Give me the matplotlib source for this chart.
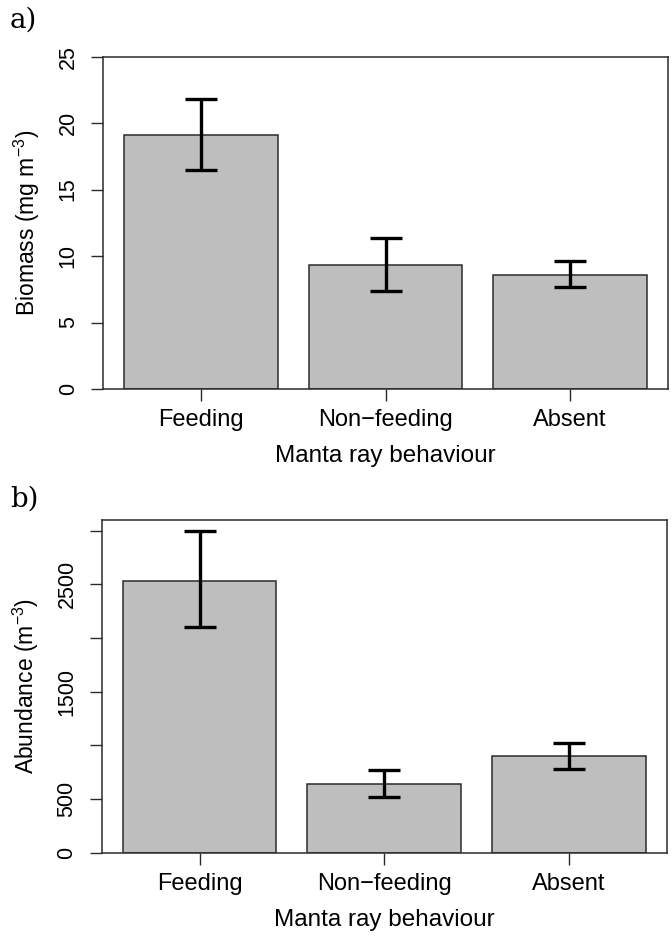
import numpy as np
import matplotlib
matplotlib.use('Agg')
import matplotlib.pyplot as plt

plt.rcParams['font.family'] = ['Liberation Sans', 'DejaVu Sans']
plt.rcParams['mathtext.fontset'] = 'custom'
plt.rcParams['mathtext.rm'] = 'Liberation Sans'
plt.rcParams['mathtext.it'] = 'Liberation Sans:italic'

behaviour = ['Feeding', 'Non\u2212feeding', 'Absent']

biomass = [19.1, 9.3, 8.55]
biomass_upper = [21.8, 11.35, 9.6]
biomass_lower = [16.45, 7.35, 7.65]
biomass_ticks = [0, 5, 10, 15, 20, 25]
biomass_ticklabels = ['0', '5', '10', '15', '20', '25']

abundance = [2535, 640, 900]
abundance_upper = [2995, 770, 1020]
abundance_lower = [2100, 522, 783]
abundance_ticks = [0, 500, 1000, 1500, 2000, 2500, 3000]
abundance_ticklabels = ['0', '500', '', '1500', '', '2500', '']

# R barplot style positions: width 1, space 0.2
x = 0.7 + 1.2 * np.arange(len(behaviour))

fig = plt.figure(figsize=(6.72, 9.4), dpi=100)
ax_a = fig.add_axes([0.1533, 0.5862, 0.8408, 0.3535])
ax_b = fig.add_axes([0.1513, 0.0929, 0.8408, 0.3539])


def draw_panel(ax, values, upper, lower, ticks, ticklabels, ylim, ylabel):
    values = np.array(values)
    err = [values - np.array(lower), np.array(upper) - values]
    ax.bar(x, values, width=1.0, color='#bebebe', edgecolor='#2b2b2b', linewidth=1.1, zorder=2)
    ax.errorbar(x, values, yerr=err, fmt='none', ecolor='black', elinewidth=2.4,
                capsize=11.5, capthick=2.4, zorder=3)
    ax.set_xlim(0.064, 3.736)
    ax.set_ylim(*ylim)
    ax.set_xticks(x)
    ax.set_xticklabels(behaviour, fontsize=17)
    ax.set_yticks(ticks)
    ax.set_yticklabels(ticklabels, fontsize=15.5, rotation=90, va='center')
    ax.tick_params(axis='x', length=8.4, width=1, color='#2b2b2b', pad=6)
    ax.tick_params(axis='y', length=8.4, width=1, color='#2b2b2b', pad=9)
    for s in ax.spines.values():
        s.set_linewidth(1.1)
        s.set_color('#2b2b2b')
    ax.set_xlabel('Manta ray behaviour', fontsize=17.5)
    ax.xaxis.set_label_coords(0.5, -0.168)
    ax.set_ylabel(ylabel, fontsize=16.5)
    ax.yaxis.set_label_coords(-0.108, 0.5)


draw_panel(ax_a, biomass, biomass_upper, biomass_lower, biomass_ticks, biomass_ticklabels,
           (0, 25), r'Biomass (mg m$^{-3}$)')
draw_panel(ax_b, abundance, abundance_upper, abundance_lower, abundance_ticks, abundance_ticklabels,
           (0, 3100), r'Abundance (m$^{-3}$)')

fig.text(10 / 672, 1 - 28 / 940, 'a)', family='DejaVu Serif', fontsize=20, va='baseline')
fig.text(10 / 672, 1 - 507 / 940, 'b)', family='DejaVu Serif', fontsize=20, va='baseline')

fig.savefig('out.png', dpi=100)
